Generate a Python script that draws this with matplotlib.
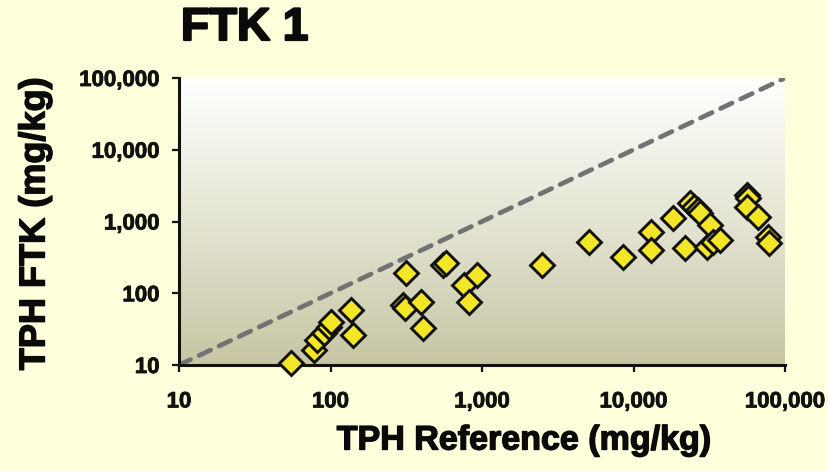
import numpy as np
import matplotlib
matplotlib.use("Agg")
import matplotlib.pyplot as plt
import matplotlib.patheffects as pe
from matplotlib.ticker import FixedLocator, NullLocator
from matplotlib.colors import LinearSegmentedColormap

# ---- data ----
tph_reference = [54.7, 77.6, 82, 90, 97.5, 100, 136, 140, 313, 300, 310, 393, 405,
                 550, 575, 755, 933, 815, 2506, 5100, 8550, 13100, 13100, 18300,
                 21900, 23700, 25000, 26500, 27500, 32000, 30600, 33600, 37300,
                 56200, 57000, 56000, 66400, 77200, 79000]
tph_ftk = [10.7, 16.2, 22.3, 27.9, 33.8, 39.7, 58.5, 26.2, 191, 68.6, 62, 75.5, 32.8,
           248, 260, 130, 179, 75.5, 248, 517, 320, 714, 401, 1120,
           427, 1810, 1600, 1450, 1320, 893, 442, 517, 552,
           2340, 2120, 1600, 1160, 608, 501]
tick_values = [10, 100, 1000, 10000, 100000]
tick_labels = ["10", "100", "1,000", "10,000", "100,000"]
one_to_one = [10, 100000]

W, H = 829, 471
fig = plt.figure(figsize=(W / 100, H / 100), dpi=100)
fig.patch.set_facecolor("#FFFFDC")

left, right, bottom, top = 179, 785, 365, 78
ax = fig.add_axes([left / W, 1 - bottom / H, (right - left) / W, (bottom - top) / H])
ax.set_xscale("log")
ax.set_yscale("log")
ax.set_xlim(10, 100000)
ax.set_ylim(10, 100000)
ax.patch.set_alpha(0)

# gradient background
cmap = LinearSegmentedColormap.from_list("bg", ["#C6C6A4", "#E4E4D3", "#FFFFFF"])
grad = np.linspace(0, 1, 256).reshape(-1, 1)
ax.imshow(grad, extent=[0, 1, 0, 1], transform=ax.transAxes, aspect="auto",
          cmap=cmap, origin="lower", zorder=0)

# 1:1 line
ax.plot(one_to_one, one_to_one, color="#727272", lw=3.4, dashes=(2.7, 2.0),
        solid_capstyle="round", dash_capstyle="round", zorder=1)

ax.plot(tph_reference, tph_ftk, linestyle="none", marker="D", markersize=12.5,
        markerfacecolor="#F3E626", markeredgecolor="#111111", markeredgewidth=2.1,
        clip_on=False, zorder=5)

for s in ["top", "right"]:
    ax.spines[s].set_visible(False)
for s in ["left", "bottom"]:
    ax.spines[s].set_linewidth(2.2)
    ax.spines[s].set_color("#111111")

ax.xaxis.set_major_locator(FixedLocator(tick_values))
ax.yaxis.set_major_locator(FixedLocator(tick_values))
ax.xaxis.set_minor_locator(NullLocator())
ax.yaxis.set_minor_locator(NullLocator())
ax.set_xticklabels(tick_labels)
ax.set_yticklabels(tick_labels)
ax.tick_params(axis="both", direction="out", length=5, width=1.6, color="#111111",
               labelsize=16, labelcolor="#111111")
ax.tick_params(axis="x", pad=14)
ax.tick_params(axis="y", pad=9)
thin = [pe.withStroke(linewidth=0.6, foreground="#111111")]
for lab in ax.get_xticklabels() + ax.get_yticklabels():
    lab.set_fontweight("bold")
    lab.set_fontfamily("Liberation Sans")
    lab.set_path_effects(thin)

heavy = [pe.withStroke(linewidth=1.6, foreground="#0A0A0A")]
mid = [pe.withStroke(linewidth=1.0, foreground="#0A0A0A")]
fig.text(181 / W, 1 - 28 / H, "FTK 1", ha="left", va="center", fontsize=33,
         fontweight="heavy", family="Liberation Sans", color="#0A0A0A",
         path_effects=heavy)
fig.text(524 / W, 1 - 441 / H, "TPH Reference (mg/kg)", ha="center", va="center",
         fontsize=24.5, fontweight="bold", family="Liberation Sans", color="#0A0A0A",
         path_effects=mid)
fig.text(35 / W, 1 - 224 / H, "TPH FTK (mg/kg)", ha="center", va="center",
         rotation=90, fontsize=26, fontweight="bold", family="Liberation Sans",
         color="#0A0A0A", path_effects=mid)

fig.savefig("out.png", dpi=100, facecolor=fig.get_facecolor())
